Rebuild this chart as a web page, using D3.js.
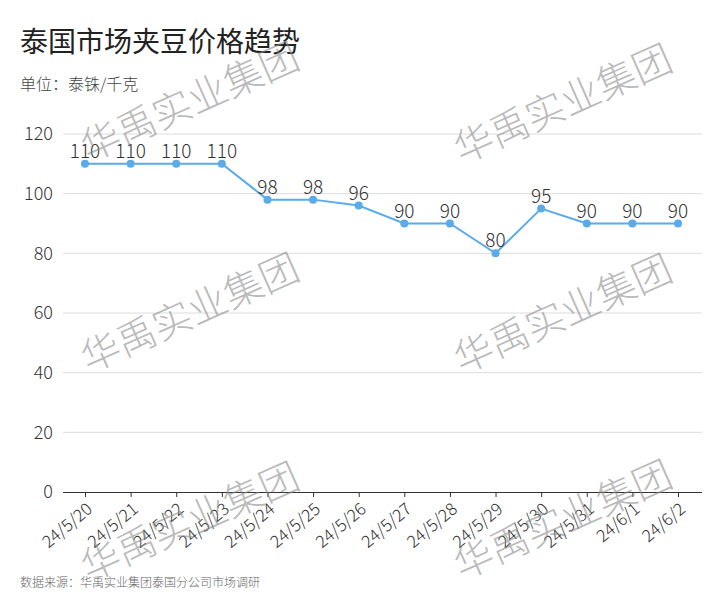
<!DOCTYPE html>
<html><head><meta charset="utf-8">
<script src="https://cdn.jsdelivr.net/npm/d3@7"></script>
<style>body{margin:0;background:#fff}svg{display:block}</style>
</head><body>
<svg id="chart" width="720" height="612"></svg>
<script>
const categories = ["24/5/20","24/5/21","24/5/22","24/5/23","24/5/24","24/5/25","24/5/26","24/5/27","24/5/28","24/5/29","24/5/30","24/5/31","24/6/1","24/6/2"];
const prices = [110,110,110,110,98,98,96,90,90,80,95,90,90,90];
const yTicks = [0,20,40,60,80,100,120];
const titleText = "泰国市场夹豆价格趋势";
const unitText = "单位：泰铢/千克";
const sourceText = "数据来源：华禹实业集团泰国分公司市场调研";
const watermarkText = "华禹实业集团";

(function(){
const font = "'Noto Sans CJK SC','Noto Sans',sans-serif";
const svg = d3.select("#chart").style("font-family", font);
const mLeft = 63, mRight = 702, mTop = 134, mBottom = 492;

const x = d3.scalePoint().domain(categories).range([85, 678]);
const y = d3.scaleLinear().domain([0,120]).range([mBottom, mTop]);

// grid
svg.append("g").selectAll("line").data(yTicks.filter(d=>d>0)).join("line")
  .attr("x1", mLeft).attr("x2", mRight)
  .attr("y1", d=>y(d)).attr("y2", d=>y(d))
  .attr("stroke", "#dcdcdc").attr("stroke-width", 1);

// y axis labels
const yAxis = svg.append("g").attr("transform", `translate(${mLeft},0)`)
  .call(d3.axisLeft(y).tickValues(yTicks).tickSize(0).tickPadding(10));
yAxis.select(".domain").remove();
yAxis.selectAll("text").attr("font-size", 18).attr("font-weight", 300).attr("fill", "#333").attr("font-family", font);

// x axis
const xAxis = svg.append("g").attr("transform", `translate(0,${mBottom})`)
  .call(d3.axisBottom(x).tickSize(5).tickSizeOuter(0));
xAxis.select(".domain").attr("d", `M${mLeft},0.5H${mRight}`).attr("stroke", "#333");
xAxis.selectAll(".tick line").attr("stroke", "#333");
xAxis.selectAll("text").attr("font-size", 17).attr("font-weight", 300).attr("fill", "#333").attr("font-family", font)
  .attr("text-anchor", "end").attr("dy", 0).attr("y", 0)
  .attr("transform", "translate(8,19) rotate(-40)");

// line
svg.append("path").datum(prices)
  .attr("fill", "none").attr("stroke", "#5aabe8").attr("stroke-width", 2)
  .attr("d", d3.line().x((d,i)=>x(categories[i])).y(d=>y(d)));

svg.append("g").selectAll("circle").data(prices).join("circle")
  .attr("cx", (d,i)=>x(categories[i])).attr("cy", d=>y(d)).attr("r", 4)
  .attr("fill", "#5aabe8");

svg.append("g").selectAll("text").data(prices).join("text")
  .attr("x", (d,i)=>x(categories[i])).attr("y", d=>y(d) - 6)
  .attr("text-anchor", "middle").attr("font-size", 19).attr("font-weight", 300).attr("fill", "#333")
  .text(d=>d);

// title etc
svg.append("text").attr("x", 20).attr("y", 52).attr("font-size", 28).attr("fill", "#222").text(titleText);
svg.append("text").attr("x", 20).attr("y", 90).attr("font-size", 16).attr("font-weight", 300).attr("fill", "#444").text(unitText);
svg.append("text").attr("x", 20).attr("y", 587).attr("font-size", 12).attr("font-weight", 300).attr("fill", "#666").text(sourceText);

// watermarks
const wmPos = [[190,102],[563,104],[190,313],[563,314],[190,522],[563,520]];
svg.append("g").selectAll("text").data(wmPos).join("text")
  .attr("transform", d=>`translate(${d[0]},${d[1]}) rotate(-24)`)
  .attr("text-anchor", "middle").attr("dy", "0.35em")
  .attr("font-size", 39).attr("font-weight", 300)
  .attr("fill", "rgba(140,140,140,0.6)")
  .text(watermarkText);
})();
</script>
</body></html>
